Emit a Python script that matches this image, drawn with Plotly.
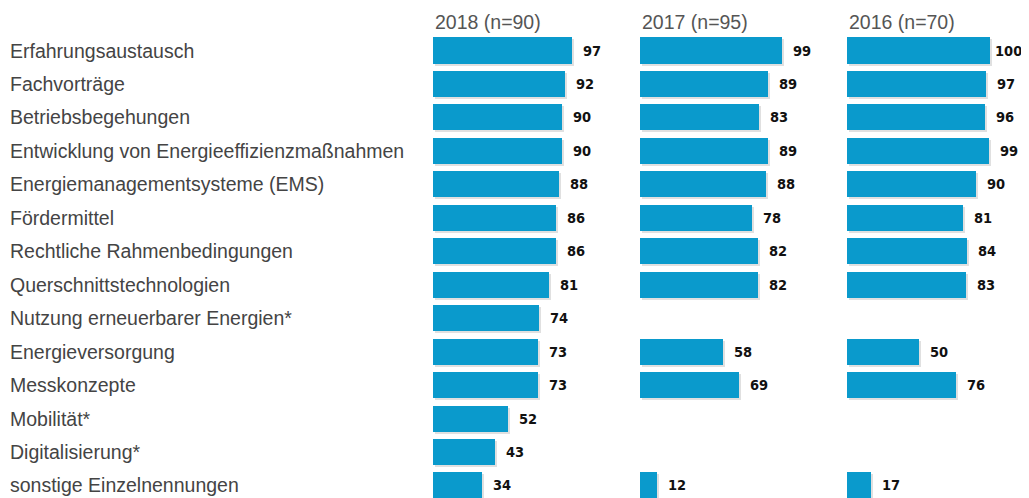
import plotly.graph_objects as go

categories = [
    "Erfahrungsaustausch",
    "Fachvorträge",
    "Betriebsbegehungen",
    "Entwicklung von Energieeffizienzmaßnahmen",
    "Energiemanagementsysteme (EMS)",
    "Fördermittel",
    "Rechtliche Rahmenbedingungen",
    "Querschnittstechnologien",
    "Nutzung erneuerbarer Energien*",
    "Energieversorgung",
    "Messkonzepte",
    "Mobilität*",
    "Digitalisierung*",
    "sonstige Einzelnennungen",
]
panel_titles = ["2018 (n=90)", "2017 (n=95)", "2016 (n=70)"]
values_2018 = [97, 92, 90, 90, 88, 86, 86, 81, 74, 73, 73, 52, 43, 34]
values_2017 = [99, 89, 83, 89, 88, 78, 82, 82, None, 58, 69, None, None, 12]
values_2016 = [100, 97, 96, 99, 90, 81, 84, 83, None, 50, 76, None, None, 17]
series = [values_2018, values_2017, values_2016]

# page body has an 8px margin in the browser; compensate
OFF = 8
W, H = 1029 - OFF, 498 - OFF
px_per_unit = 1.433
panel_left = [433 - OFF, 640 - OFF, 847 - OFF]
panel_right = [633 - OFF, 840 - OFF, 1029 - OFF]
row0, row_step = 50.5 - OFF, 33.46
bar_color = "#0A9ACC"
bar_w = 0.78
label_size = 14.5
visible_right = 1020 - OFF   # rightmost pixel that shows in the screenshot

fig = go.Figure()
idx = list(range(len(categories)))
y_range = [(H - row0) / row_step, (0 - row0) / row_step]
shadow_dx = 2.0 / px_per_unit
shadow_dy = 2.0 / row_step

for k, vals in enumerate(series):
    xa = "x" if k == 0 else f"x{k+1}"
    # soft drop shadow
    fig.add_trace(go.Bar(
        x=vals, y=idx,
        orientation="h", base=shadow_dx,
        marker=dict(color="rgba(0,0,0,0.12)", line=dict(width=0)),
        width=bar_w, offset=-bar_w / 2 + shadow_dy,
        xaxis=xa, yaxis="y", hoverinfo="skip", showlegend=False,
    ))
    fig.add_trace(go.Bar(
        x=vals, y=idx, orientation="h",
        marker=dict(color=bar_color, line=dict(width=0)),
        width=bar_w, xaxis=xa, yaxis="y",
        hoverinfo="skip", showlegend=False,
    ))
    axname = "xaxis" if k == 0 else f"xaxis{k+1}"
    width_px = panel_right[k] - panel_left[k]
    fig.layout[axname] = dict(
        domain=[panel_left[k] / W, panel_right[k] / W],
        range=[0, width_px / px_per_unit],
        visible=False, anchor="y",
    )
    for i, v in enumerate(vals):
        if v is None:
            continue
        bar_end = panel_left[k] + v * px_per_unit
        est_w = len(str(v)) * 0.63 * label_size
        shift = min(9, visible_right - bar_end - est_w)
        fig.add_annotation(
            x=v, y=i, xref=xa, yref="y", text=f"<b>{v}</b>",
            showarrow=False, xanchor="left", xshift=shift,
            font=dict(family="DejaVu Sans Condensed", size=label_size, color="#111111"),
        )
    fig.add_annotation(
        x=(panel_left[k] + 2) / W, y=1 - (22 - OFF) / H, xref="paper", yref="paper",
        text=panel_titles[k], showarrow=False, xanchor="left", yanchor="middle",
        xshift=-2,
        font=dict(family="Liberation Sans", size=19.5, color="#555555"),
    )

for i, c in enumerate(categories):
    fig.add_annotation(
        x=(10 - OFF) / W, y=i, xref="paper", yref="y", text=c, showarrow=False,
        xanchor="left", yanchor="middle", xshift=-2,
        font=dict(family="Liberation Sans", size=19.5, color="#444444"),
    )

fig.update_layout(
    width=W, height=H,
    margin=dict(l=0, r=0, t=0, b=0),
    paper_bgcolor="white", plot_bgcolor="white",
    yaxis=dict(domain=[0, 1], range=y_range, visible=False),
    barmode="overlay",
    bargap=0,
)
fig.write_html("out.html")
